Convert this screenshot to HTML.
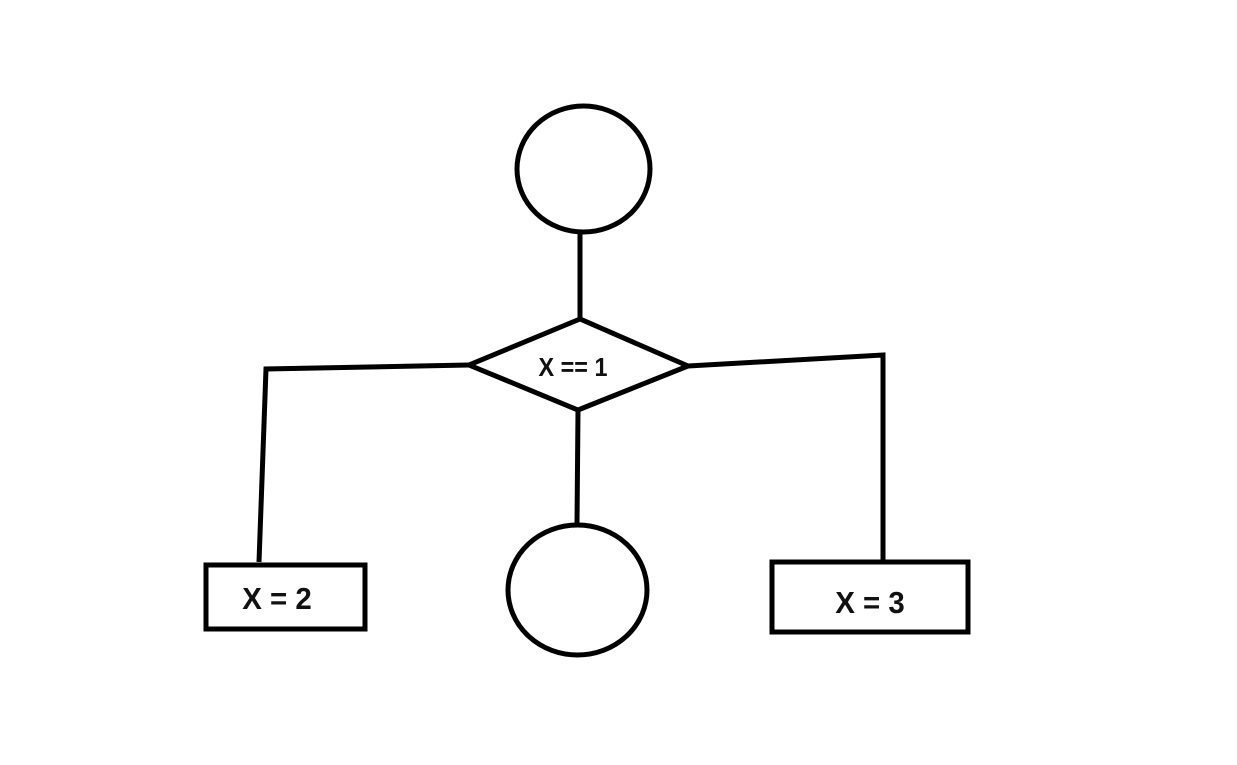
<!DOCTYPE html>
<html><head><meta charset="utf-8"><style>
html,body{margin:0;padding:0;background:#fff;width:1237px;height:765px;overflow:hidden}
text{font-family:"Liberation Sans",sans-serif;font-weight:bold;fill:#111}
</style></head><body>
<svg width="1237" height="765" viewBox="0 0 1237 765" xmlns="http://www.w3.org/2000/svg">
<g fill="none" stroke="#000" stroke-width="5" stroke-linejoin="miter">
<ellipse cx="583.5" cy="169" rx="66.5" ry="63"/>
<line x1="580" y1="233" x2="580" y2="320"/>
<polygon points="580,319 469,365 578,410 688,366" fill="#fff"/>
<polyline points="469,365 266,369 259,562"/>
<line x1="578" y1="411" x2="577" y2="524"/>
<ellipse cx="577.5" cy="590" rx="69.5" ry="65"/>
<polyline points="688,366 883,355 883,560"/>
<rect x="206" y="565" width="159" height="64"/>
<rect x="772" y="562" width="196" height="70"/>
</g>
<text transform="translate(573,376) scale(0.9,1)" font-size="26" text-anchor="middle">X == 1</text>
<text transform="translate(277,609) scale(0.95,1)" font-size="31" text-anchor="middle">X = 2</text>
<text transform="translate(870,613) scale(0.95,1)" font-size="31" text-anchor="middle">X = 3</text>
</svg>
</body></html>
